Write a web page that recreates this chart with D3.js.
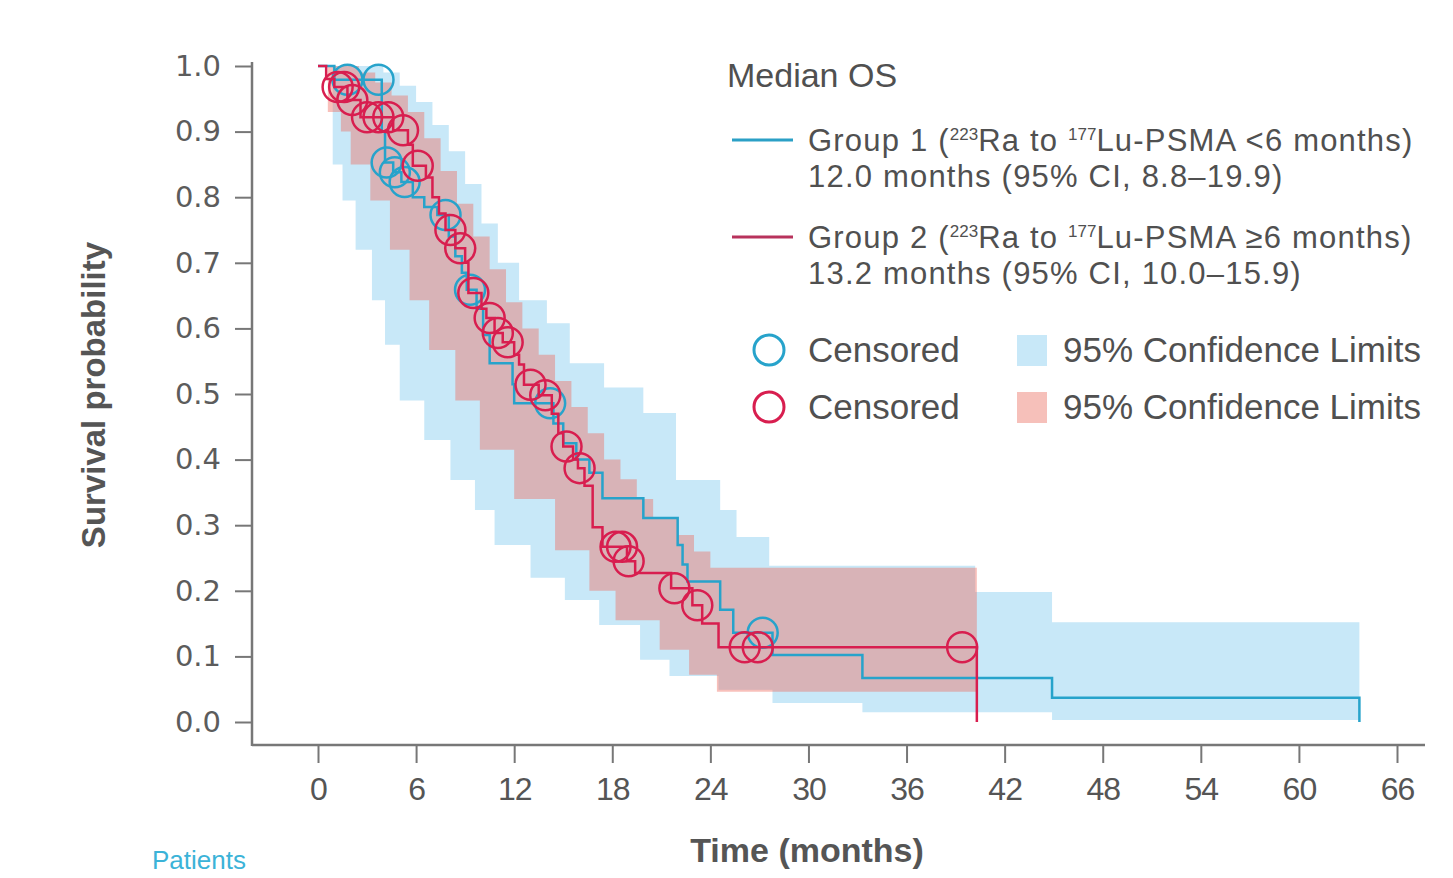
<!DOCTYPE html>
<html lang="en">
<head>
    <meta charset="UTF-8">
    <title>Overall survival</title>
    <style>
        body{ margin: 0; background: #fff; }
        svg{ display: block; }
    </style>
    <script src="https://d3js.org/d3.v7.min.js"></script>
</head>
<body>
    <div id="svg"></div>
    <script>
        // KM steps: [time in months, survival after the event]
        const group1Steps = [[0,1.0],[1.0,0.979],[3.9,0.90],[4.1,0.853],[4.6,0.838],[5.1,0.823],[5.8,0.80],[6.5,0.785],[7.3,0.773],[8.0,0.74],[8.4,0.71],[8.8,0.685],[9.1,0.659],[9.7,0.63],[10.1,0.59],[10.5,0.547],[11.9,0.515],[12.0,0.486],[14.4,0.455],[15.0,0.425],[15.8,0.40],[16.6,0.38],[17.4,0.341],[19.9,0.311],[22.0,0.27],[22.3,0.24],[22.6,0.214],[24.6,0.171],[25.4,0.136],[27.8,0.102],[33.3,0.067],[44.9,0.037],[63.7,0.0]]
        const group2Steps = [[0,1.0],[0.5,0.98],[1.0,0.968],[1.8,0.948],[2.6,0.922],[4.6,0.902],[5.5,0.88],[5.8,0.848],[6.6,0.83],[7.0,0.80],[7.4,0.775],[7.8,0.75],[8.4,0.722],[9.0,0.70],[9.2,0.654],[10.0,0.63],[10.3,0.616],[10.8,0.593],[11.3,0.579],[12.0,0.56],[12.3,0.545],[12.6,0.514],[13.5,0.498],[14.3,0.47],[14.7,0.44],[15.0,0.42],[15.6,0.40],[15.9,0.387],[16.3,0.36],[16.8,0.297],[17.4,0.267],[18.9,0.245],[19.4,0.227],[21.6,0.204],[22.9,0.178],[23.5,0.15],[24.5,0.114],[40.3,0.0]]

        // censored times (months)
        const group1Censored = [1.8, 3.7, 4.2, 4.7, 5.3, 7.8, 9.3, 14.2, 27.2]
        const group2Censored = [1.2, 1.6, 2.1, 3.0, 3.7, 4.3, 5.2, 6.1, 8.1, 8.7, 9.5, 10.5, 11.0, 11.6, 13.0, 13.9, 15.2, 16.0, 18.2, 18.6, 19.0, 21.8, 23.2, 26.1, 26.9, 39.4]

        // 95% confidence limits as steps
        const group1Upper = [[0,1.0],[4.0,0.99],[5.0,0.97],[6.0,0.945],[7.0,0.91],[8.0,0.87],[9.0,0.82],[10.0,0.76],[11.0,0.70],[12.3,0.643],[14.0,0.608],[15.4,0.547],[17.5,0.51],[19.9,0.471],[21.9,0.369],[24.6,0.323],[25.6,0.282],[27.6,0.238],[40.2,0.198],[44.9,0.152]]
        const group1Lower = [[0,1.0],[0.9,0.85],[1.5,0.795],[2.3,0.72],[3.3,0.643],[4.1,0.575],[5.0,0.49],[6.5,0.43],[8.1,0.369],[9.6,0.323],[10.8,0.27],[13.0,0.22],[15.1,0.186],[17.2,0.148],[19.7,0.095],[21.5,0.07],[24.5,0.049],[27.8,0.029],[33.3,0.015],[44.9,0.003]]
        const group2Upper = [[0,1.0],[2.5,0.99],[3.5,0.975],[4.5,0.955],[5.5,0.93],[6.5,0.89],[7.5,0.84],[8.5,0.79],[9.5,0.74],[10.5,0.69],[11.5,0.64],[12.5,0.60],[13.5,0.56],[14.5,0.52],[15.5,0.48],[16.5,0.44],[17.5,0.40],[18.5,0.37],[19.5,0.34],[20.5,0.31],[22.0,0.285],[23.0,0.26],[24.0,0.235]]
        const group2Lower = [[0,1.0],[0.6,0.93],[1.4,0.90],[2.0,0.85],[3.2,0.795],[4.4,0.72],[5.6,0.643],[6.8,0.567],[8.4,0.49],[9.9,0.415],[12.0,0.34],[14.5,0.262],[16.6,0.20],[18.2,0.155],[20.9,0.11],[22.7,0.072],[24.4,0.046]]

        const xTicks = [0, 6, 12, 18, 24, 30, 36, 42, 48, 54, 60, 66]
        const yTicks = [0, 0.1, 0.2, 0.3, 0.4, 0.5, 0.6, 0.7, 0.8, 0.9, 1.0]

        const blue = "#27a3cb", red = "#d81e4f"

        const svg = d3.select('#svg').append('svg').attr("width", 1453).attr('height', 878)

        const xScale = d3.scaleLinear().domain([0, 66]).range([318, 1397])
        const yScale = d3.scaleLinear().domain([0, 1]).range([722, 66])

        // step lookup
        const valueAt = (steps, t) => {
            let v = steps[0][1]
            for (const s of steps) { if (s[0] <= t) v = s[1] }
            return v
        }

        function bandData(upper, lower, end) {
            const times = Array.from(new Set(upper.map(d => d[0]).concat(lower.map(d => d[0])))).sort((a, b) => a - b)
            const rows = times.map(t => ({ t, hi: valueAt(upper, t), lo: valueAt(lower, t) }))
            rows.push({ t: end, hi: valueAt(upper, end), lo: valueAt(lower, end) })
            return rows
        }

        const area = d3.area().curve(d3.curveStepAfter)
            .x(d => xScale(d.t)).y0(d => yScale(d.lo)).y1(d => yScale(d.hi))

        svg.append("path").datum(bandData(group1Upper, group1Lower, 63.7))
            .attr("d", area).attr("fill", "#c8e8f8")
        svg.append("path").datum(bandData(group2Upper, group2Lower, 40.3))
            .attr("d", area).attr("fill", "rgb(238,104,92)").attr("fill-opacity", 0.42)

        // axes
        const axisColor = "#777"
        const xAxis = d3.axisBottom(xScale).tickValues(xTicks).tickSize(18).tickPadding(14).tickSizeOuter(0)
        const gx = svg.append("g").attr("transform", "translate(0,745)").call(xAxis)
        gx.select(".domain").remove()
        gx.selectAll(".tick line").attr("stroke", axisColor).attr("stroke-width", 2)
        gx.selectAll(".tick text").attr("fill", "#555").style("font-family", "'Liberation Sans Narrow', 'Liberation Sans', sans-serif").style("font-size", "32px").style("letter-spacing", "-1px")

        const yAxis = d3.axisLeft(yScale).tickValues(yTicks).tickFormat(d3.format(".1f")).tickSize(17).tickPadding(14).tickSizeOuter(0)
        const gy = svg.append("g").attr("transform", "translate(252,0)").call(yAxis)
        gy.select(".domain").remove()
        gy.selectAll(".tick line").attr("stroke", axisColor).attr("stroke-width", 2)
        gy.selectAll(".tick text").attr("fill", "#5c5c5c").style("font-family", "'DejaVu Sans', sans-serif").style("font-size", "29px")

        svg.append("line").attr("x1", 252).attr("x2", 1425).attr("y1", 745).attr("y2", 745).attr("stroke", axisColor).attr("stroke-width", 2.5)
        svg.append("line").attr("x1", 252).attr("x2", 252).attr("y1", 62).attr("y2", 746).attr("stroke", axisColor).attr("stroke-width", 2.5)

        // curves
        const line = d3.line().curve(d3.curveStepAfter).x(d => xScale(d[0])).y(d => yScale(d[1]))

        svg.append("path").datum(group1Steps).attr("d", line).attr("fill", "none").attr("stroke", blue).attr("stroke-width", 2.5)
        svg.selectAll(".c1").data(group1Censored).enter().append("circle")
            .attr("class", "c1")
            .attr("cx", d => xScale(d)).attr("cy", d => yScale(valueAt(group1Steps, d)))
            .attr("r", 15).attr("fill", "none").attr("stroke", blue).attr("stroke-width", 2.5)

        svg.append("path").datum(group2Steps).attr("d", line).attr("fill", "none").attr("stroke", red).attr("stroke-width", 2.5)
        svg.selectAll(".c2").data(group2Censored).enter().append("circle")
            .attr("class", "c2")
            .attr("cx", d => xScale(d)).attr("cy", d => yScale(valueAt(group2Steps, d)))
            .attr("r", 15).attr("fill", "none").attr("stroke", red).attr("stroke-width", 2.5)

        // axis titles
        svg.append("text").attr("transform", "translate(105,395) rotate(-90)")
            .attr("text-anchor", "middle").attr("fill", "#555")
            .style("font-family", "'Liberation Sans', sans-serif").style("font-size", "33px").style("font-weight", "bold")
            .text("Survival probability")
        svg.append("text").attr("x", 807).attr("y", 862)
            .attr("text-anchor", "middle").attr("fill", "#555")
            .style("font-family", "'Liberation Sans Narrow', 'Liberation Sans', sans-serif").style("font-size", "34px").style("font-weight", "bold")
            .text("Time (months)")
        svg.append("text").attr("x", 152).attr("y", 869).attr("fill", "#3bb3d8")
            .style("font-family", "'Liberation Sans', sans-serif").style("font-size", "26px")
            .text("Patients")

        // legend
        const lg = svg.append("g").style("font-family", "'Liberation Sans', sans-serif").style("font-size", "35px").attr("fill", "#505050")
        lg.append("text").attr("x", 727).attr("y", 87).style("font-size", "34px").text("Median OS")

        const groups = [
            { name: "Group 1 (", legendColor: "#2ba0c6", y: 140, sign: "<6 months)", median: "12.0 months (95% CI, 8.8\u201319.9)" },
            { name: "Group 2 (", legendColor: "#b8325c", y: 237, sign: "\u22656 months)", median: "13.2 months (95% CI, 10.0\u201315.9)" }
        ]
        groups.forEach(gr => {
            lg.append("line").attr("x1", 732).attr("x2", 793).attr("y1", gr.y).attr("y2", gr.y).attr("stroke", gr.legendColor).attr("stroke-width", 3)
            const t = lg.append("text").attr("x", 808).attr("y", gr.y + 11)
                .style("font-size", "31px").style("letter-spacing", "1.2px")
            t.append("tspan").text(gr.name)
            t.append("tspan").attr("dy", -11).style("font-size", "17px").style("letter-spacing", "0px").text("223")
            t.append("tspan").attr("dy", 11).text("Ra to ")
            t.append("tspan").attr("dy", -11).style("font-size", "17px").style("letter-spacing", "0px").text("177")
            t.append("tspan").attr("dy", 11).text("Lu-PSMA " + gr.sign)
            lg.append("text").attr("x", 808).attr("y", gr.y + 47)
                .style("font-size", "31px").style("letter-spacing", "1.2px")
                .text(gr.median)
        })

        const keyRows = [{ color: blue, fill: "#c8e8f8", y: 350 }, { color: red, fill: "#f6c0ba", y: 407 }]
        keyRows.forEach(k => {
            lg.append("circle").attr("cx", 769).attr("cy", k.y).attr("r", 15).attr("fill", "none").attr("stroke", k.color).attr("stroke-width", 3)
            lg.append("text").attr("x", 808).attr("y", k.y + 12).text("Censored")
            lg.append("rect").attr("x", 1017).attr("y", k.y - 15).attr("width", 30).attr("height", 31).attr("fill", k.fill)
            lg.append("text").attr("x", 1063).attr("y", k.y + 12).text("95% Confidence Limits")
        })
    </script>
</body>
</html>
